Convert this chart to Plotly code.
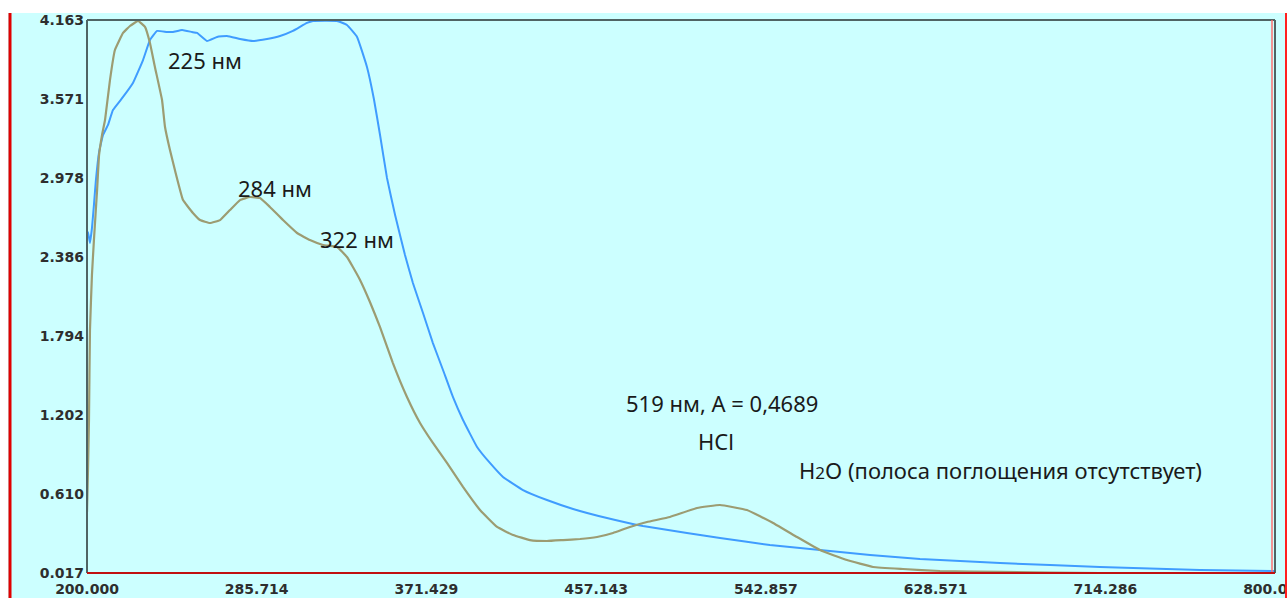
import plotly.graph_objects as go

# ---- data (wavelength, nm / absorbance) ----
hcl_nm = [200.0, 200.5, 201.0, 201.5, 202.5, 203.5, 205.1, 206.1, 207.6, 209.1, 211.6, 214.1, 218.2,
          221.7, 225.8, 229.3, 231.8, 234.3, 237.9, 239.4, 241.9, 244.4, 248.5, 253.5, 257.1, 262.1,
          267.2, 272.2, 277.3, 282.3, 287.4, 292.4, 299.0, 306.1, 312.6, 319.2, 326.3, 331.3, 334.3,
          337.9, 342.9, 348.0, 354.5, 361.6, 368.2, 374.7, 381.8, 389.9, 398.5, 407.1, 415.2, 423.7,
          432.3, 440.4, 449.0, 457.6, 465.7, 474.2, 482.8, 494.4, 508.1, 519.7, 533.3, 546.5, 558.6,
          570.2, 583.8, 597.0, 612.1, 630.8, 661.1, 711.6, 800.0]
hcl_abs = [0.474, 0.789, 1.164, 1.839, 2.251, 2.513, 2.889, 3.151, 3.301, 3.413, 3.713, 3.938, 4.066,
           4.118, 4.156, 4.111, 3.991, 3.811, 3.563, 3.361, 3.188, 3.038, 2.813, 2.716, 2.663, 2.641,
           2.663, 2.738, 2.813, 2.836, 2.828, 2.761, 2.663, 2.566, 2.513, 2.476, 2.461, 2.386, 2.311,
           2.214, 2.049, 1.861, 1.591, 1.337, 1.142, 0.992, 0.842, 0.662, 0.489, 0.362, 0.302, 0.264,
           0.257, 0.264, 0.272, 0.287, 0.317, 0.362, 0.399, 0.437, 0.504, 0.527, 0.489, 0.392, 0.287,
           0.189, 0.114, 0.062, 0.047, 0.032, 0.025, 0.017, 0.017]

h2o_nm = [200.0, 200.5, 201.5, 202.5, 203.5, 204.5, 206.1, 208.1, 210.6, 213.1, 218.2, 223.2, 228.3,
          231.8, 235.4, 240.4, 243.4, 248.0, 253.0, 255.6, 260.6, 265.7, 270.7, 277.3, 283.8, 290.9,
          297.5, 304.0, 311.1, 314.1, 326.3, 331.3, 336.4, 341.4, 344.9, 348.0, 351.5, 355.6, 360.6,
          364.6, 369.7, 374.7, 379.8, 384.8, 389.9, 397.0, 403.5, 410.1, 420.2, 432.3, 445.5,
          462.6, 480.8, 503.0, 519.7, 544.9, 570.2, 595.5, 620.7, 661.1, 711.6, 762.1, 800.0]
h2o_abs = [2.529, 2.574, 2.491, 2.603, 2.776, 2.963, 3.173, 3.301, 3.376, 3.488, 3.586, 3.691, 3.863,
           4.013, 4.081, 4.073, 4.073, 4.088, 4.073, 4.066, 4.006, 4.036, 4.043, 4.021, 4.006, 4.021,
           4.043, 4.081, 4.141, 4.156, 4.156, 4.126, 4.036, 3.811, 3.571, 3.301, 2.979, 2.701, 2.401,
           2.191, 1.966, 1.741, 1.539, 1.337, 1.164, 0.962, 0.842, 0.737, 0.639, 0.564, 0.497,
           0.429, 0.369, 0.317, 0.279, 0.227, 0.189, 0.152, 0.122, 0.092, 0.062, 0.039, 0.032]

x_ticks = [200.0, 285.714, 371.429, 457.143, 542.857, 628.571, 714.286, 800.0]
x_ticktext = ["200.000", "285.714", "371.429", "457.143", "542.857", "628.571", "714.286", "800.000"]
y_ticks = [0.017, 0.610, 1.202, 1.794, 2.386, 2.978, 3.571, 4.163]
y_ticktext = ["0.017", "0.610", "1.202", "1.794", "2.386", "2.978", "3.571", "4.163"]

labels_text = ["225 нм", "284 нм", "322 нм", "519 нм, А = 0,4689", "HCl",
               "H<span style='font-size:17px'>2</span>O (полоса поглощения отсутствует)"]
labels_x = [259.6, 294.9, 336.4, 520.7, 517.7, 661.6]
labels_y = [3.863, 2.903, 2.521, 1.292, 1.007, 0.789]

W, H = 1287, 598
ML, MR, MT, MB = 87, 12, 20, 25
PW, PH = W - ML - MR, H - MT - MB


def px(xp):
    return (xp - ML) / PW


def py(yp):
    return (H - MB - yp) / PH


fig = go.Figure()
fig.add_trace(go.Scatter(x=h2o_nm, y=h2o_abs, mode="lines", name="H2O",
                         line=dict(color="#3f9cff", width=2, shape="spline", smoothing=0.3)))
fig.add_trace(go.Scatter(x=hcl_nm, y=hcl_abs, mode="lines", name="HCl",
                         line=dict(color="#9c9c72", width=2.2, shape="spline", smoothing=0.3)))

tickfont = dict(family="DejaVu Sans, Verdana, sans-serif", size=14, color="#2e2e2e", weight="bold")
fig.update_layout(
    width=W, height=H,
    margin=dict(l=ML, r=MR, t=MT, b=MB, autoexpand=False),
    paper_bgcolor="#ccffff",
    plot_bgcolor="#ccffff",
    showlegend=False,
    xaxis=dict(range=[200, 800], tickvals=x_ticks, ticktext=x_ticktext, showgrid=False,
               zeroline=False, showline=False, ticks="", tickfont=tickfont, automargin=False,
               ticklabeloverflow="allow", ticklabelstandoff=6),
    yaxis=dict(range=[0.017, 4.163], tickvals=y_ticks, ticktext=y_ticktext, showgrid=False,
               zeroline=False, showline=False, ticks="", tickfont=tickfont, automargin=False,
               ticklabelstandoff=2),
)

for t, xx, yy in zip(labels_text, labels_x, labels_y):
    fig.add_annotation(x=xx, y=yy, text=t, showarrow=False, xanchor="center", yanchor="middle",
                       font=dict(family="Noto Sans, Open Sans, sans-serif", size=22, color="#1a1a1a"))

shapes = [
    dict(type="rect", xref="paper", yref="paper", x0=px(0), x1=px(W), y0=py(13), y1=py(0),
         fillcolor="white", line=dict(width=0), layer="below"),
    dict(type="rect", xref="paper", yref="paper", x0=px(0), x1=px(8), y0=py(H), y1=py(0),
         fillcolor="white", line=dict(width=0), layer="below"),
    dict(type="line", xref="paper", yref="paper", x0=px(10), x1=px(10), y0=py(13), y1=py(H),
         line=dict(color="#e00000", width=3)),
    dict(type="line", xref="paper", yref="paper", x0=px(1286), x1=px(1286), y0=py(13), y1=py(H),
         line=dict(color="#ff2020", width=2)),
    dict(type="line", xref="paper", yref="paper", x0=0, x1=1, y0=1, y1=1,
         line=dict(color="#4f6464", width=2)),
    dict(type="line", xref="paper", yref="paper", x0=0, x1=0, y0=0, y1=1,
         line=dict(color="#4f6464", width=2)),
    dict(type="line", xref="paper", yref="paper", x0=1, x1=1, y0=0, y1=1,
         line=dict(color="#4f6464", width=2)),
    dict(type="line", xref="paper", yref="paper", x0=px(1272), x1=px(1272), y0=0, y1=1,
         line=dict(color="#ff7070", width=1.5)),
    dict(type="line", xref="paper", yref="paper", x0=0, x1=1, y0=0, y1=0,
         line=dict(color="#c01010", width=2)),
]
fig.update_layout(shapes=shapes)

fig.write_html("out.html", config={"displayModeBar": False},
               post_script="document.body.style.margin='0';")
